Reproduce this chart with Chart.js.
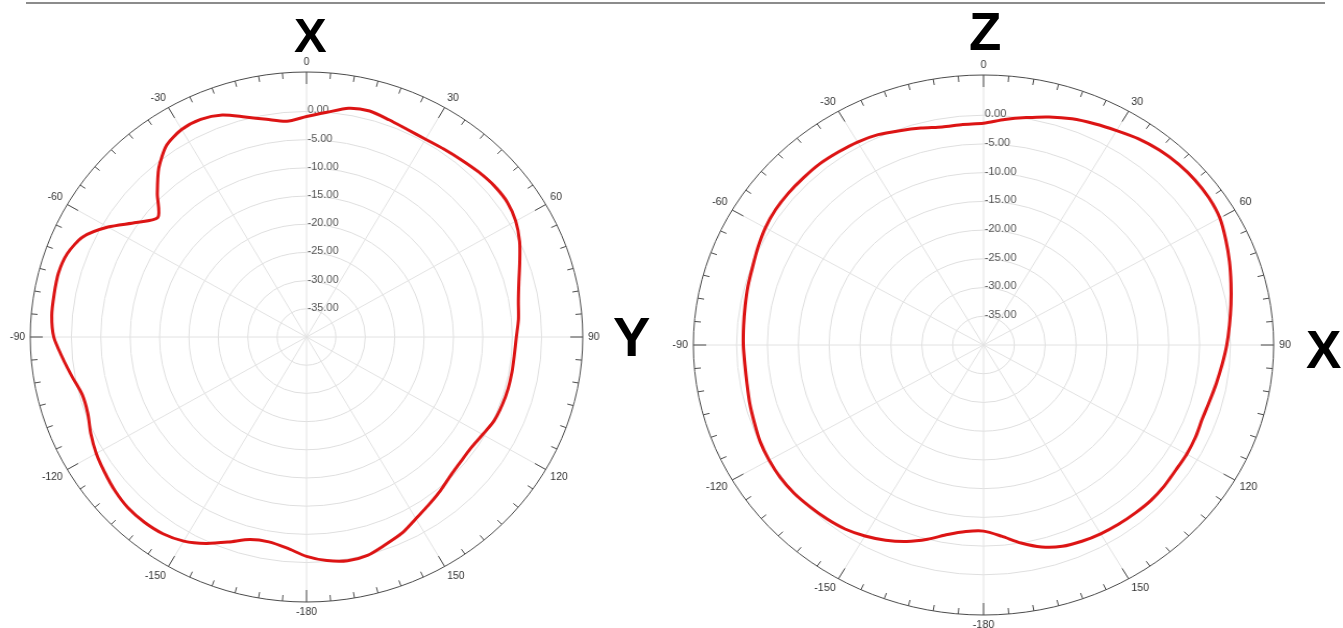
<!DOCTYPE html>
<html>
<head>
<meta charset="utf-8">
<script src="https://cdn.jsdelivr.net/npm/chart.js@4.4.1/dist/chart.umd.min.js"></script>
<style>
  body { margin: 0; background: #fff; width: 1343px; height: 628px; overflow: hidden; position: relative; font-family: "Liberation Sans", Arial, sans-serif; }
  .rule { position: absolute; left: 26px; top: 2px; width: 1299px; height: 2px; background: #8c8c8c; }
  .axisName { position: absolute; font-weight: bold; line-height: 1; color: #000; }
  canvas { position: absolute; top: 0; }
</style>
</head>
<body>
<div class="rule"></div>
<canvas id="graficoXY" width="588" height="628" style="left:0px; width:613px; height:628px;"></canvas>
<canvas id="graficoZX" width="602" height="628" style="left:660px; width:647px; height:628px;"></canvas>
<div class="axisName" style="left:294px; top:11px; font-size:49px;">X</div>
<div class="axisName" style="left:613px; top:309px; font-size:56px;">Y</div>
<div class="axisName" style="left:969px; top:5px; font-size:53px;">Z</div>
<div class="axisName" style="left:1306px; top:323px; font-size:53px;">X</div>
<script>
// angulos (graus, sentido horario a partir do topo)
const angulos = [0, 5, 10, 15, 20, 25, 30, 35, 40, 45, 50, 55, 60, 65, 70, 75, 80, 85,
  90, 95, 100, 105, 110, 115, 120, 125, 130, 135, 140, 145, 150, 155, 160, 165, 170, 175,
  180, 185, 190, 195, 200, 205, 210, 215, 220, 225, 230, 235, 240, 245, 250, 255, 260, 265,
  270, 275, 280, 285, 290, 295, 300, 305, 310, 315, 320, 325, 330, 335, 340, 345, 350, 355];

// ganho em dB - plano XY (esquerda)
const ganhoXY = [-0.9, 0.0, 1.2, 1.5, 1.0, 0.6, 0.5, 0.7, 1.0, 1.4, 1.7, 1.7, 1.1, 0.0, -1.4, -2.6, -3.4, -3.8,
  -4.3, -4.5, -4.5, -4.5, -4.6, -4.8, -5.4, -5.8, -5.7, -5.3, -4.5, -3.7, -2.8, -1.6, -0.8, 0.1, 0.3, -0.2,
  -1.1, -2.4, -3.1, -2.8, -1.3, 0.4, 1.8, 2.6, 2.9, 2.9, 2.5, 1.9, 1.3, 0.5, -0.4, -0.5, 0.5, 1.7,
  3.0, 3.5, 3.6, 3.7, 3.3, 2.0, -1.0, -4.6, -7.0, -4.1, -0.9, 1.5, 2.5, 2.6, 1.9, 0.4, -0.8, -1.6];

// ganho em dB - plano ZX (direita)
const ganhoZX = [-1.4, -0.6, 0.2, 1.1, 1.9, 2.5, 3.1, 3.8, 4.3, 4.6, 4.7, 4.6, 4.2, 3.3, 2.4, 1.5, 0.7, 0.0,
  -0.6, -1.2, -1.7, -2.1, -2.3, -2.1, -2.0, -2.0, -1.8, -1.7, -1.8, -1.9, -2.05, -2.3, -2.7, -3.6, -5.0, -6.6,
  -7.6, -7.4, -6.5, -5.0, -3.6, -2.5, -1.6, -0.9, -0.5, -0.2, 0.1, 0.2, 0.1, -0.1, -0.5, -0.8, -1.1, -1.2,
  -1.1, -1.0, -0.8, -0.5, -0.2, 0.3, 0.8, 1.1, 1.2, 1.2, 1.2, 1.0, 0.8, 0.4, -0.3, -0.9, -1.45, -1.45];

// aneis do eixo radial (dB)
const aneis = [-40, -35, -30, -25, -20, -15, -10, -5, 0];
const escalaMin = -40;
const escalaMax = 7;

const fonteTicks = '"Liberation Sans", Arial, sans-serif';

// moldura: circulo externo, marcas a cada 5 graus, rotulos de angulo e de dB
const molduraPolar = {
  id: 'molduraPolar',
  beforeDatasetsDraw(chart) {
    const s = chart.scales.r;
    const ctx = chart.ctx;
    const R = s.getDistanceFromCenterForValue(s.max);
    ctx.save();
    ctx.strokeStyle = '#4a4a4a';
    ctx.lineWidth = 1;
    ctx.beginPath();
    ctx.arc(s.xCenter, s.yCenter, R, 0, Math.PI * 2);
    ctx.stroke();

    ctx.beginPath();
    angulos.forEach((a, i) => {
      const len = a % 30 === 0 ? 12 : 6;
      const p1 = s.getPointPosition(i, R);
      const p2 = s.getPointPosition(i, R - len);
      ctx.moveTo(p1.x, p1.y);
      ctx.lineTo(p2.x, p2.y);
    });
    ctx.stroke();

    ctx.fillStyle = '#333';
    ctx.font = '10px ' + fonteTicks;
    angulos.forEach((a, i) => {
      if (a % 30 !== 0) return;
      const p = s.getPointPosition(i, R + 5);
      const texto = String(a >= 180 ? a - 360 : a);
      ctx.textAlign = (a === 0 || a === 180) ? 'center' : (a < 180 ? 'left' : 'right');
      ctx.textBaseline = (a === 90 || a === 270) ? 'middle' : ((a < 90 || a > 270) ? 'bottom' : 'top');
      ctx.fillText(texto, p.x, p.y);
    });

    ctx.fillStyle = '#555';
    ctx.font = '10.5px ' + fonteTicks;
    ctx.textAlign = 'left';
    ctx.textBaseline = 'middle';
    aneis.forEach(v => {
      if (v === escalaMin) return;
      const d = s.getDistanceFromCenterForValue(v);
      ctx.fillText(v.toFixed(2), s.xCenter + 1, s.yCenter - d - 1);
    });
    ctx.restore();
  }
};

function criaPolar(id, dados, padding) {
  const ctx = document.getElementById(id).getContext('2d');
  return new Chart(ctx, {
    type: 'radar',
    data: {
      labels: angulos,
      datasets: [{
        label: id,
        data: dados,
        borderColor: '#dc1414',
        borderWidth: 3,
        pointRadius: 0,
        fill: false,
        tension: 0.25
      }]
    },
    options: {
      responsive: false,
      animation: false,
      layout: { padding: padding },
      plugins: {
        legend: { display: false },
        tooltip: { enabled: false }
      },
      scales: {
        r: {
          min: escalaMin,
          max: escalaMax,
          bounds: 'data',
          afterBuildTicks: s => { s.ticks = aneis.map(v => ({ value: v })); },
          ticks: { display: false },
          pointLabels: { display: false },
          grid: { circular: true, color: '#dfdfdf', lineWidth: 1 },
          angleLines: {
            color: c => (angulos[c.index] % 30 === 0 ? '#e2e2e2' : 'rgba(0,0,0,0)'),
            lineWidth: 1
          }
        }
      }
    },
    plugins: [molduraPolar]
  });
}

criaPolar('graficoXY', ganhoXY, { top: 72, bottom: 26, left: 29, right: 29 });
criaPolar('graficoZX', ganhoZX, { top: 75, bottom: 13, left: 31, right: 31 });
</script>
</body>
</html>
